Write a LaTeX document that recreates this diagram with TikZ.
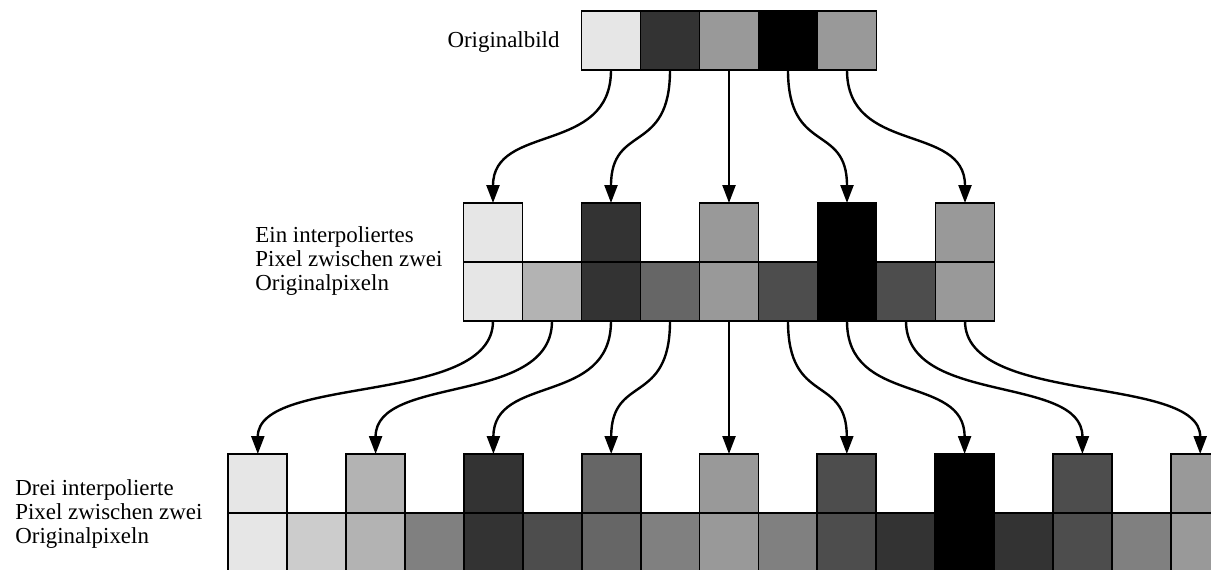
\documentclass[tikz,border=0pt]{standalone}
\usepackage{fontspec}
\setmainfont{Liberation Serif}
\usetikzlibrary{arrows.meta}

% grey levels of the pixels
\definecolor{pxE6}{HTML}{E6E6E6}
\definecolor{pxCC}{HTML}{CCCCCC}
\definecolor{pxB3}{HTML}{B3B3B3}
\definecolor{px99}{HTML}{999999}
\definecolor{px80}{HTML}{808080}
\definecolor{px66}{HTML}{666666}
\definecolor{px4D}{HTML}{4D4D4D}
\definecolor{px33}{HTML}{333333}
\definecolor{px00}{HTML}{000000}

\begin{document}
\begin{tikzpicture}[x=0.5pt,y=-0.5pt,
  cell/.style={draw=black, line width=0.9pt, minimum width=29.5pt,
    minimum height=29.5pt, inner sep=0pt, outer sep=0pt, fill=#1},
  link/.style={line width=1.2pt, -{Triangle[length=9pt,width=6.5pt]}},
  lbl/.style={font=\fontsize{11.45}{12}\selectfont, inner sep=0pt, align=left}]
\useasboundingbox (0,0) rectangle (1211,569);
\clip (0,0) rectangle (1211,569);

% original image
\foreach \c [count=\i from 0] in {E6,33,99,00,99}
  \node[cell=px\c] (t\i) at ({611+59*\i},40.5) {};

% one interpolated pixel between two originals
\foreach \c [count=\i from 0] in {E6,B3,33,66,99,4D,00,4D,99}
  \node[cell=px\c] (ml\i) at ({493+59*\i},291.5) {};
\foreach \c [count=\i from 0] in {E6,33,99,00,99}
  \node[cell=px\c] (mu\i) at ({493+118*\i},232.5) {};

% three interpolated pixels between two originals
\foreach \c [count=\i from 0] in {E6,CC,B3,80,33,4D,66,80,99,80,4D,33,00,33,4D,80,99}
  \node[cell=px\c] (bl\i) at ({257.8+58.9*\i},542.5) {};
\foreach \c [count=\i from 0] in {E6,B3,33,66,99,4D,00,4D,99}
  \node[cell=px\c] (bu\i) at ({257.8+117.8*\i},483.5) {};

% connectors
\foreach \i in {0,...,4}
  \draw[link] (t\i.south) .. controls +(0,85) and +(0,-80) .. (mu\i.north);
\foreach \i in {0,...,8}
  \draw[link] (ml\i.south) .. controls +(0,85) and +(0,-80) .. (bu\i.north);

% labels
\node[lbl, anchor=base] (orig) at (503.5,47) {Originalbild};
\node[lbl, anchor=north west] (one) at (255,226.4)
  {Ein interpoliertes\\Pixel zwischen zwei\\Originalpixeln};
\node[lbl, anchor=north west] (three) at (15,479.4)
  {Drei interpolierte\\Pixel zwischen zwei\\Originalpixeln};
\end{tikzpicture}
\end{document}
